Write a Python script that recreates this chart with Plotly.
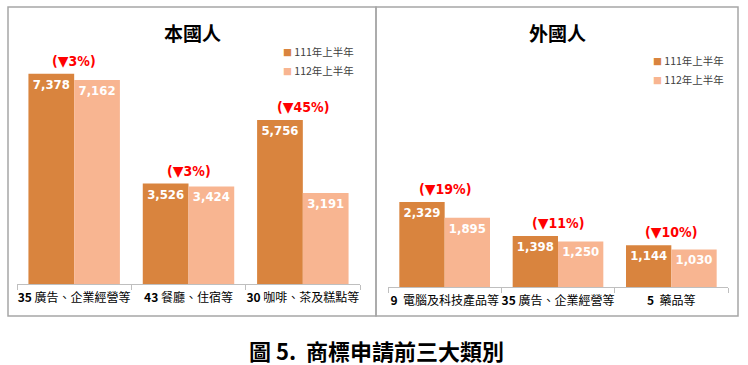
import plotly.graph_objects as go

# ---- data ----
series_names = ["111年上半年", "112年上半年"]
local_categories = ["<b>35</b> 廣告、企業經營等", "<b>43</b> 餐廳、住宿等", "<b>30</b> 咖啡、茶及糕點等"]
local_111 = [7378, 3526, 5756]
local_112 = [7162, 3424, 3191]
foreign_categories = ["<b>9</b>  電腦及科技產品等", "<b>35</b> 廣告、企業經營等", "<b>5</b>  藥品等"]
foreign_111 = [2329, 1398, 1144]
foreign_112 = [1895, 1250, 1030]
panel_titles = ["本國人", "外國人"]
caption = "圖 5.  商標申請前三大類別"

# ---- style ----
W, H = 748, 365
C_DARK = "#D9843E"
C_LIGHT = "#F8B591"
NUM_FONT = "DejaVu Sans Condensed, Liberation Sans Narrow, Liberation Sans, sans-serif"
CJK_FONT = "Noto Sans CJK TC, Noto Sans CJK SC, sans-serif"


def px_x(p):
    return p / W


def px_y(p):
    return 1 - p / H


fig = go.Figure()

panels = [
    dict(cats=local_categories, a=local_111, b=local_112, xa="x", ya="y"),
    dict(cats=foreign_categories, a=foreign_111, b=foreign_112, xa="x2", ya="y2"),
]

for p in panels:
    for vals, color, name in [(p["a"], C_DARK, series_names[0]), (p["b"], C_LIGHT, series_names[1])]:
        fig.add_trace(go.Bar(
            x=p["cats"], y=vals, name=name, marker=dict(color=color, line=dict(width=0)),
            xaxis=p["xa"], yaxis=p["ya"], showlegend=False,
            text=[f"<b>{v:,}</b>" for v in vals], textposition="inside", insidetextanchor="end",
            textangle=0,
            textfont=dict(family=NUM_FONT, size=13, color="white"),
            cliponaxis=False,
        ))
    # change annotations
    for i, cat in enumerate(p["cats"]):
        pct = round((p["b"][i] - p["a"][i]) / p["a"][i] * 100)
        arrow = "▼" if pct < 0 else "▲"
        fig.add_annotation(
            x=cat, y=max(p["a"][i], p["b"][i]), xref=p["xa"], yref=p["ya"],
            text=f'<b>(<span style="font-family:DejaVu Sans;font-size:14px">{arrow}</span>{abs(pct)}%)</b>',
            showarrow=False, yanchor="bottom", yshift=3, xanchor="center",
            font=dict(family=NUM_FONT, size=14, color="#FF0000"),
        )

axis_common = dict(
    showgrid=False, zeroline=False, showline=True, linecolor="#BFBFBF", linewidth=1,
    ticks="outside", tickson="boundaries", ticklen=5, tickcolor="#BFBFBF", tickangle=0,
    automargin=False, ticklabelstandoff=3,
    tickfont=dict(family=CJK_FONT, size=12, color="#000000"), fixedrange=True,
)
yaxis_common = dict(visible=False, showgrid=False, zeroline=False, fixedrange=True, automargin=False)

fig.update_layout(
    width=W, height=H, margin=dict(l=0, r=0, t=0, b=0),
    paper_bgcolor="white", plot_bgcolor="white",
    barmode="group", bargap=0.2, bargroupgap=0,
    xaxis=dict(domain=[px_x(17), px_x(360)], anchor="y", **axis_common),
    yaxis=dict(domain=[px_y(284), px_y(56)], range=[0, 8000], anchor="x", **yaxis_common),
    xaxis2=dict(domain=[px_x(388), px_x(728)], anchor="y2", **axis_common),
    yaxis2=dict(domain=[px_y(287), px_y(177.5)], range=[0, 3000], anchor="x2", **yaxis_common),
    showlegend=False,
    uniformtext=dict(mode=False),
)

# panel borders
for x0, x1 in [(8, 376), (376, 738)]:
    fig.add_shape(type="rect", xref="paper", yref="paper",
                  x0=px_x(x0), x1=px_x(x1), y0=px_y(316), y1=px_y(7),
                  line=dict(color="#A6A6A6", width=1.5), fillcolor="rgba(0,0,0,0)", layer="below")

# panel titles
for title, cx in zip(panel_titles, [192, 557]):
    fig.add_annotation(x=px_x(cx), y=px_y(33), xref="paper", yref="paper", text=f"<b>{title}</b>",
                       xanchor="center", yanchor="middle",
                       showarrow=False, font=dict(family=CJK_FONT, size=19, color="#000000"))

# legends
for lx, ly in [(281, [52, 70]), (651, [60, 79])]:
    for name, color, yy in zip(series_names, [C_DARK, C_LIGHT], ly):
        fig.add_annotation(
            x=px_x(lx), y=px_y(yy), xref="paper", yref="paper", xanchor="left", yanchor="middle",
            text=f'<span style="color:{color};font-size:9px">■</span> {name}', showarrow=False,
            font=dict(family=CJK_FONT, size=10.5, color="#404040"),
        )

# caption
fig.add_annotation(x=px_x(376), y=px_y(350), xref="paper", yref="paper", text=f"<b>{caption}</b>",
                   xanchor="center", yanchor="middle",
                   showarrow=False, font=dict(family=CJK_FONT, size=22, color="#000000"))

fig.write_html("out.html", config={"displayModeBar": False},
               post_script="document.body.style.margin='0';document.body.style.padding='0';")
